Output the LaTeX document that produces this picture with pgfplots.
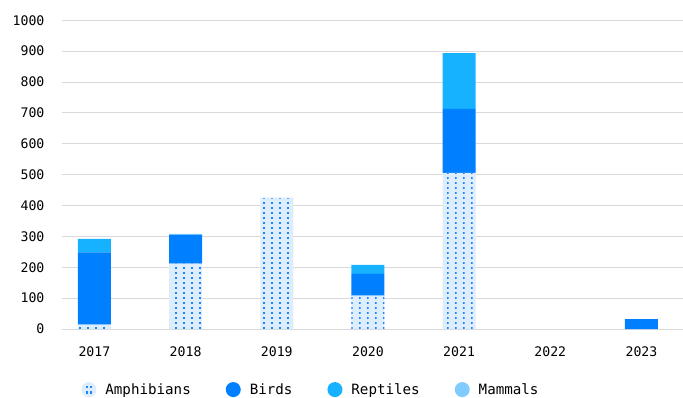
\documentclass[border=0pt]{standalone}
\usepackage{fontspec}
\setmainfont{DejaVu Sans Mono}
\usepackage{pgfplots}
\pgfplotsset{compat=1.18}
\usetikzlibrary{patterns}

\definecolor{amphfill}{HTML}{DEEDFC}
\definecolor{amphdot}{HTML}{1A85FF}
\definecolor{birds}{HTML}{0080FF}
\definecolor{reptiles}{HTML}{17B2FF}
\definecolor{mammals}{HTML}{80CCFF}
\definecolor{gridgray}{HTML}{D9D9D9}

% small square dots on an 8 x 5 grid
\pgfdeclarepatternformonly{dotgrid}{\pgfqpoint{-1pt}{-1pt}}{\pgfqpoint{1pt}{1pt}}{\pgfqpoint{8pt}{5pt}}{%
  \pgfpathrectangle{\pgfqpoint{-1pt}{-1pt}}{\pgfqpoint{2pt}{2pt}}\pgfusepath{fill}}

% drop inherited post-actions (used for the legend icon)
\makeatletter
\tikzset{no postactions/.code={\let\tikz@postactions\pgfutil@empty}}
\makeatother

\begin{document}
\begin{tikzpicture}
\begin{axis}[
  scale only axis, width=621pt, height=309pt,
  xmin=-0.356, xmax=6.45, ymin=0, ymax=1000,
  ybar stacked, bar width=33pt,
  axis line style={draw=none}, major tick length=0pt,
  ymajorgrids, grid style={gridgray, line width=1pt},
  ytick={0,100,...,1000},
  xtick={0,...,6}, xticklabels={2017,2018,2019,2020,2021,2022,2023},
  /pgf/number format/1000 sep={},
  /pgf/number format/assume math mode=true,
  tick label style={font=\fontsize{13.2}{15}\selectfont},
  yticklabel style={xshift=-14pt},
  xticklabel style={yshift=-14pt},
  legend columns=-1,
  legend style={draw=none, fill=none, at={(0.031,-0.196)}, anchor=west,
    inner sep=0pt, column sep=7pt,
    /tikz/every even column/.append style={column sep=33pt},
    font=\fontsize{14.2}{16}\selectfont},
  legend cell align=left,
]
\addplot[fill=amphfill, draw=none, postaction={pattern=dotgrid, pattern color=amphdot},
  legend image code/.code={
    \fill[no postactions, amphfill] (7.5pt,0pt) circle (7.5pt);
    \fill[no postactions, amphdot] (4.3pt,1.8pt) rectangle ++(2.2pt,2.2pt);
    \fill[no postactions, amphdot] (8.5pt,1.8pt) rectangle ++(2.2pt,2.2pt);
    \fill[no postactions, amphdot] (4.3pt,-4pt) rectangle ++(2.2pt,2.2pt);
    \fill[no postactions, amphdot] (8.5pt,-4pt) rectangle ++(2.2pt,2.2pt);}]
  coordinates {(0,14) (1,212) (2,423) (3,108) (4,506) (5,0) (6,0)};
\addlegendentry{Amphibians}
\addplot[fill=birds, draw=none,
  legend image code/.code={\fill[birds] (7.5pt,0pt) circle (7.5pt);}]
  coordinates {(0,234) (1,93) (2,0) (3,71) (4,207) (5,0) (6,32)};
\addlegendentry{Birds}
\addplot[fill=reptiles, draw=none,
  legend image code/.code={\fill[reptiles] (7.5pt,0pt) circle (7.5pt);}]
  coordinates {(0,44) (1,0) (2,0) (3,29) (4,181) (5,0) (6,0)};
\addlegendentry{Reptiles}
\addplot[fill=mammals, draw=none,
  legend image code/.code={\fill[mammals] (7.5pt,0pt) circle (7.5pt);}]
  coordinates {(0,0) (1,3) (2,2) (3,0) (4,0) (5,0) (6,0)};
\addlegendentry{Mammals}
\end{axis}
\path[use as bounding box] (-62pt,-68.7pt) rectangle (621pt,329.3pt);
\end{tikzpicture}
\end{document}
